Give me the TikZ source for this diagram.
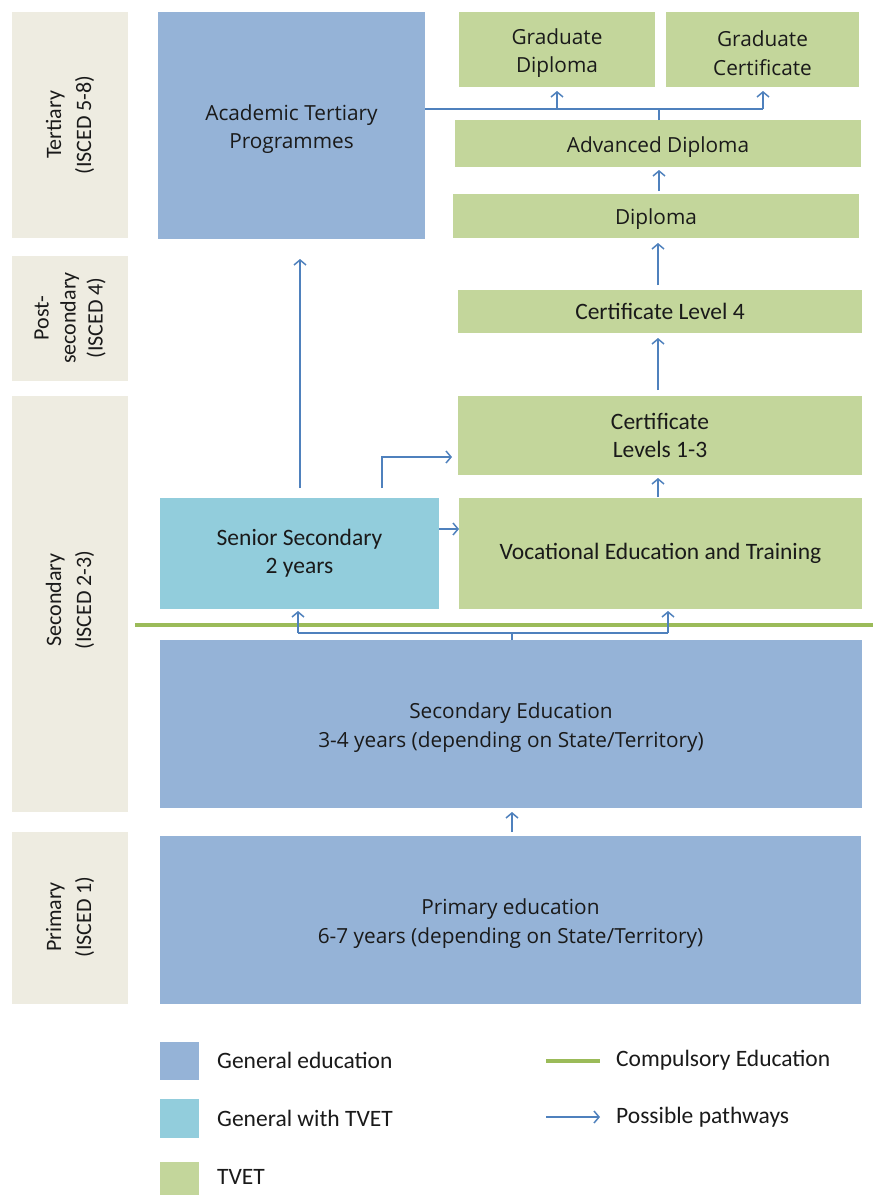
\documentclass[tikz,border=0pt]{standalone}
\usepackage{fontspec}
\setmainfont{Carlito}
\newfontfamily\tahfont{Open Sans}
\usetikzlibrary{arrows.meta}
\definecolor{genblue}{HTML}{95B3D7}
\definecolor{tvetblue}{HTML}{92CDDC}
\definecolor{tvetgreen}{HTML}{C3D69B}
\definecolor{beige}{HTML}{EEECE1}
\definecolor{pwblue}{HTML}{4F81BD}
\definecolor{compgreen}{HTML}{9BBB59}
\definecolor{txt}{HTML}{1A1A1A}
\begin{document}
\begin{tikzpicture}[x=1pt,y=-1pt,
  box/.style={inner sep=0pt, outer sep=0pt, align=center, anchor=north west, text=txt},
  cal/.style={font=\fontsize{23.5}{28}\selectfont},
  tlab/.style={inner sep=0pt, outer sep=0pt, align=center, text=txt, yshift=-3.5pt,
               font=\tahfont\fontsize{20.8}{28.5}\selectfont},
  genbox/.style={box, fill=genblue},
  tvbox/.style={box, fill=tvetblue},
  grbox/.style={box, fill=tvetgreen},
  lvbox/.style={box, fill=beige},
  lvtext/.style={rotate=90, align=center, text=txt, font=\fontsize{22}{30}\selectfont},
  pway/.style={draw=pwblue, line width=1.5pt},
  arr/.style={pway, -{Straight Barb[length=5pt,width=12pt,line width=1.5pt]}},
  legtext/.style={anchor=west, text=txt, inner sep=0pt, font=\fontsize{23.5}{28}\selectfont}
]
\useasboundingbox (0,0) rectangle (873,1195);
\fill[white] (0,0) rectangle (873,1195);

% level column
\node[lvbox, minimum width=116, minimum height=226] (lt) at (12,12) {};
\node[lvbox, minimum width=116, minimum height=125] (lp) at (12,256) {};
\node[lvbox, minimum width=116, minimum height=416] (ls) at (12,396) {};
\node[lvbox, minimum width=116, minimum height=172] (lpr) at (12,832) {};
\node[lvtext] (ltt) at (70,125) {Tertiary\\(ISCED 5-8)};
\node[lvtext, font=\fontsize{22}{27}\selectfont] (lpt) at (70,318) {Post-\\secondary\\(ISCED 4)};
\node[lvtext] (lst) at (70,600) {Secondary\\(ISCED 2-3)};
\node[lvtext] (lprt) at (70,917) {Primary\\(ISCED 1)};

% boxes
\node[genbox, minimum width=267, minimum height=227,
  label={[tlab, name=atpt]center:{Academic Tertiary\\Programmes}}] (atp) at (158,12) {};
\node[grbox, minimum width=196, minimum height=75,
  label={[tlab, name=gdt]center:{Graduate\\Diploma}}] (gd) at (459,12) {};
\node[grbox, minimum width=193, minimum height=75,
  label={[tlab, name=gct]center:{Graduate\\Certificate}}] (gc) at (666,12) {};
\node[grbox, minimum width=406, minimum height=47,
  label={[tlab, name=advt]center:{Advanced Diploma}}] (adv) at (455,120) {};
\node[grbox, minimum width=406, minimum height=44,
  label={[tlab, name=dipt]center:{Diploma}}] (dip) at (453,194) {};
\node[grbox, cal, minimum width=404, minimum height=43] (c4) at (458,290) {Certificate Level 4};
\node[grbox, cal, minimum width=404, minimum height=79] (c13) at (458,396) {Certificate\\Levels 1-3};
\node[tvbox, cal, minimum width=279, minimum height=111] (ss) at (160,498) {Senior Secondary\\2 years};
\node[grbox, cal, minimum width=403, minimum height=111] (vet) at (459,498) {Vocational Education and Training};
\node[genbox, minimum width=702, minimum height=168,
  label={[tlab, name=sect]center:{Secondary Education\\3-4 years (depending on State/Territory)}}] (sec) at (160,640) {};
\node[genbox, minimum width=701, minimum height=168,
  label={[tlab, name=prit]center:{Primary education\\6-7 years (depending on State/Territory)}}] (pri) at (160,836) {};

% compulsory education line
\coordinate (cl) at (135,625);
\coordinate (cr) at (873,625);
\draw[compgreen, line width=4pt] (cl) -- (cr);

% top pathways
\coordinate (tl) at (atp.east |- 0,109);
\coordinate (tgd) at (557,109);
\coordinate (tgc) at (763,109);
\coordinate (tadv) at (659,109);
\draw[pway] (tl) -- (tgc);
\draw[pway] (adv.north -| tadv) -- (tadv);
\draw[arr, shorten >=4pt] (tgd) -- (tgd |- gd.south);
\draw[arr, shorten >=4pt] (tgc) -- (tgc |- gc.south);

% vertical chain
\draw[arr, shorten <=3pt, shorten >=3pt] (dip.north -| 659,0) -- (adv.south -| 659,0);
\draw[arr, shorten <=5pt, shorten >=5pt] (c4.north -| 658,0) -- (dip.south -| 658,0);
\draw[arr, shorten <=6pt, shorten >=5pt] (c13.north -| 658,0) -- (c4.south -| 658,0);
\draw[arr, shorten <=1pt, shorten >=3pt] (vet.north -| 658,0) -- (c13.south -| 658,0);

% senior secondary pathways
\draw[arr, shorten <=10pt, shorten >=20pt] (ss.north -| 300,0) -- (atp.south -| 300,0);
\coordinate (el) at (382,457);
\draw[arr, shorten <=10pt, shorten >=6pt] (ss.north -| el) -- (el) -- (el -| c13.west);
\draw[arr] (ss.east |- 0,529) -- (vet.west |- 0,529);

% bottom bracket
\coordinate (bl) at (298,633);
\coordinate (br) at (668,633);
\coordinate (bm) at (512,633);
\draw[pway] (bl) -- (br);
\draw[pway] (sec.north -| bm) -- (bm);
\draw[arr, shorten >=2pt] (bl) -- (bl |- ss.south);
\draw[arr, shorten >=2pt] (br) -- (br |- vet.south);
\draw[arr, shorten <=4pt, shorten >=4pt] (pri.north -| bm) -- (sec.south -| bm);

% legend
\node[genbox, minimum width=39, minimum height=38] (lg1) at (160,1042) {};
\node[tvbox, minimum width=39, minimum height=39] (lg2) at (160,1099) {};
\node[grbox, minimum width=39, minimum height=40] (lg3) at (160,1162) {};
\node[legtext] (lt1) at (217,1060) {General education};
\node[legtext] (lt2) at (217,1118) {General with TVET};
\node[legtext] (lt3) at (217,1177) {TVET};
\coordinate (lca) at (546,1061);
\coordinate (lcb) at (600,1061);
\draw[compgreen, line width=4pt] (lca) -- (lcb);
\coordinate (laa) at (546,1117);
\coordinate (lab) at (600,1117);
\draw[arr] (laa) -- (lab);
\node[legtext] (lt4) at (616,1060) {Compulsory Education};
\node[legtext] (lt5) at (616,1117) {Possible pathways};
\end{tikzpicture}
\end{document}
